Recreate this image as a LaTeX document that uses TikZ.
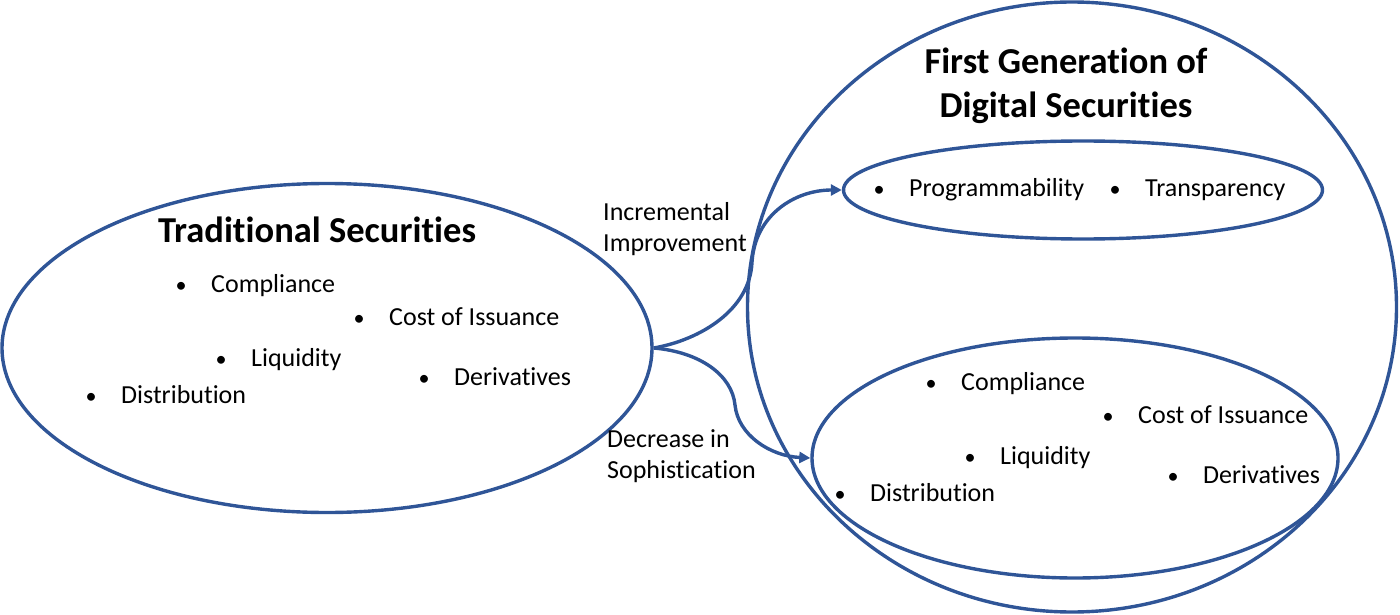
\documentclass[tikz,border=0pt]{standalone}
\usepackage{fontspec}
\setmainfont{Carlito}[Ligatures=NoCommon]
\usetikzlibrary{shapes.geometric,arrows.meta}
\definecolor{lineblue}{RGB}{47,85,151}
\newcommand{\bul}{\llap{\makebox[60pt][c]{\scalebox{0.85}{•}}}}
\begin{document}
\begin{tikzpicture}[x=1pt,y=-1pt,
  oval/.style={ellipse, draw=lineblue, line width=3.4pt, inner sep=0pt},
  titletext/.style={font=\fontsize{36.5}{44}\selectfont\bfseries, align=center, inner sep=0pt},
  itemtext/.style={anchor=base west, inner sep=0pt, font=\fontsize{26}{31}\selectfont},
  lbltext/.style={anchor=west, align=left, inner sep=0pt, font=\fontsize{26}{31}\selectfont},
  conn/.style={draw=lineblue, line width=3.4pt, -{Triangle[length=11pt,width=11pt]}}]
\useasboundingbox (0,0) rectangle (1400,615);

% ovals
\node[oval, minimum width=650pt, minimum height=329pt] (trad) at (327,348) {};
\node[oval, minimum width=649pt, minimum height=610pt] (gen) at (1072,307) {};
\node[oval, minimum width=479pt, minimum height=98pt] (topov) at (1083,190) {};
\node[oval, minimum width=526pt, minimum height=240pt] (botov) at (1075,458) {};

% connectors
\coordinate (u1) at (752,262);
\coordinate (d1) at (735,405);
\draw[conn] (trad.east) .. controls (700,340) and (750,310) .. (u1)
  .. controls (755,215) and (795,190) .. (topov.west);
\draw[conn] (trad.east) .. controls (700,352) and (732,375) .. (d1)
  .. controls (738,435) and (770,456) .. (botov.west);

% titles
\node[titletext, anchor=base] (tradtitle) at (317,242) {Traditional Securities};
\node[titletext] (gentitle) at (1066,86) {First Generation of\\Digital Securities};

% connector labels
\node[lbltext] (inc) at (603,229) {Incremental\\Improvement};
\node[lbltext] (dec) at (607,456) {Decrease in\\Sophistication};

% left items
\node[itemtext] (lcomp) at (211,292) {\bul Compliance};
\node[itemtext] (lcost) at (389,325) {\bul Cost of Issuance};
\node[itemtext] (lliq)  at (251,366) {\bul Liquidity};
\node[itemtext] (lder)  at (454,385) {\bul Derivatives};
\node[itemtext] (ldist) at (121,403) {\bul Distribution};

% top-right items
\node[itemtext] (prog)  at (909,196) {\bul Programmability};
\node[itemtext] (trans) at (1145,196) {\bul Transparency};

% bottom-right items
\node[itemtext] (rcomp) at (961,390) {\bul Compliance};
\node[itemtext] (rcost) at (1138,423) {\bul Cost of Issuance};
\node[itemtext] (rliq)  at (1000,464) {\bul Liquidity};
\node[itemtext] (rder)  at (1203,483) {\bul Derivatives};
\node[itemtext] (rdist) at (870,501) {\bul Distribution};
\end{tikzpicture}
\end{document}
